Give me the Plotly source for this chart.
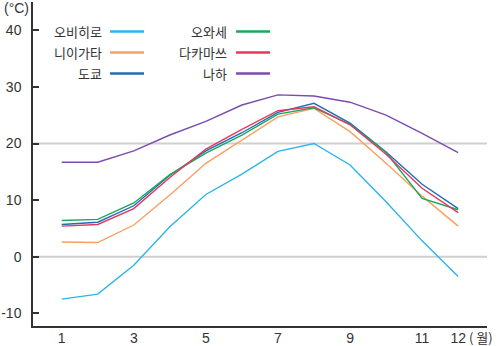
import plotly.graph_objects as go

months = [1, 2, 3, 4, 5, 6, 7, 8, 9, 10, 11, 12]
names = ["오비히로", "니이가타", "도쿄", "오와세", "다카마쓰", "나하"]
obihiro = [-7.5, -6.6, -1.5, 5.3, 11.0, 14.6, 18.6, 20.0, 16.2, 9.7, 2.8, -3.5]
niigata = [2.6, 2.5, 5.6, 10.9, 16.5, 20.6, 24.7, 26.2, 22.1, 16.5, 10.7, 5.4]
tokyo = [5.7, 6.1, 9.0, 14.4, 18.7, 21.9, 25.5, 27.1, 23.6, 18.5, 12.8, 8.5]
owase = [6.4, 6.6, 9.5, 14.5, 18.3, 21.5, 25.2, 26.3, 23.4, 18.4, 10.3, 8.3]
takamatsu = [5.4, 5.7, 8.5, 14.0, 19.0, 22.5, 25.8, 26.5, 23.3, 18.1, 12.1, 7.8]
naha = [16.7, 16.7, 18.7, 21.5, 23.9, 26.8, 28.6, 28.4, 27.3, 25.0, 21.8, 18.4]
series = [obihiro, niigata, tokyo, owase, takamatsu, naha]
colors = ["#2bb5ea", "#f9a060", "#1f6db5", "#1aa85a", "#e8375f", "#7a4cae"]
ytick_vals = [-10, 0, 10, 20, 30, 40]
ytick_text = ["-10", "0", "10", "20", "30", "40"]
xtick_vals = [1, 3, 5, 7, 9, 11, 12]
grid_vals = [0, 20]

fig = go.Figure()

# grid lines at 0 and 20
for g in grid_vals:
    fig.add_shape(type="line", xref="paper", yref="y", x0=0, x1=1, y0=g, y1=g,
                  line=dict(color="#cfcfcf", width=2), layer="below")

for name, vals, col in zip(names, series, colors):
    fig.add_trace(go.Scatter(x=months, y=vals, mode="lines", name=name,
                             line=dict(color=col, width=1.4), showlegend=False))

# manual legend (text left of line sample)
L, R, T, B = 33, 487, 2, 326
W, H = R - L, B - T
def px(x):
    return (x - L) / W
def py(y):
    return (B - y) / H

rows_y = [31.5, 52.5, 73.5]
cols = [(104, 110, 144), (229, 236, 270)]
for i, (name, col) in enumerate(zip(names, colors)):
    c = i // 3
    r = i % 3
    tx, l0, l1 = cols[c]
    fig.add_annotation(x=px(tx), y=py(rows_y[r]), xref="paper", yref="paper",
                       text=name, showarrow=False, xanchor="right", yanchor="middle",
                       font=dict(family="Noto Sans CJK KR", size=13, color="#333"))
    fig.add_shape(type="line", xref="paper", yref="paper",
                  x0=px(l0), x1=px(l1), y0=py(rows_y[r]), y1=py(rows_y[r]),
                  line=dict(color=col, width=2.5))

fig.add_annotation(x=px(2), y=py(8), xref="paper", yref="paper", text="(°C)",
                   showarrow=False, xanchor="left", yanchor="middle",
                   font=dict(family="Liberation Sans", size=14, color="#333"))
fig.add_annotation(x=px(467), y=py(337.5), xref="paper", yref="paper", text="( 월)",
                   showarrow=False, xanchor="left", yanchor="middle",
                   font=dict(family="Noto Sans CJK KR", size=13, color="#333"))

fig.update_layout(
    width=500, height=346,
    margin=dict(l=L, r=500 - R, t=T, b=346 - B),
    plot_bgcolor="white", paper_bgcolor="white",
    font=dict(family="Liberation Sans", size=14, color="#333"),
    xaxis=dict(range=[0.204, 12.8], tickvals=xtick_vals,
               ticktext=[str(v) for v in xtick_vals], automargin=False,
               showgrid=False, zeroline=False, showline=True,
               linecolor="#333", linewidth=1.5, ticks="", ticklabelstandoff=-2),
    yaxis=dict(range=[-12.24, 45.0], tickvals=ytick_vals, ticktext=ytick_text,
               automargin=False,
               showgrid=False, zeroline=False, showline=True,
               linecolor="#333", linewidth=1.5, ticks="inside", ticklen=6,
               tickwidth=1.5, tickcolor="#333", ticklabelstandoff=7),
)

fig.write_html("out.html")
